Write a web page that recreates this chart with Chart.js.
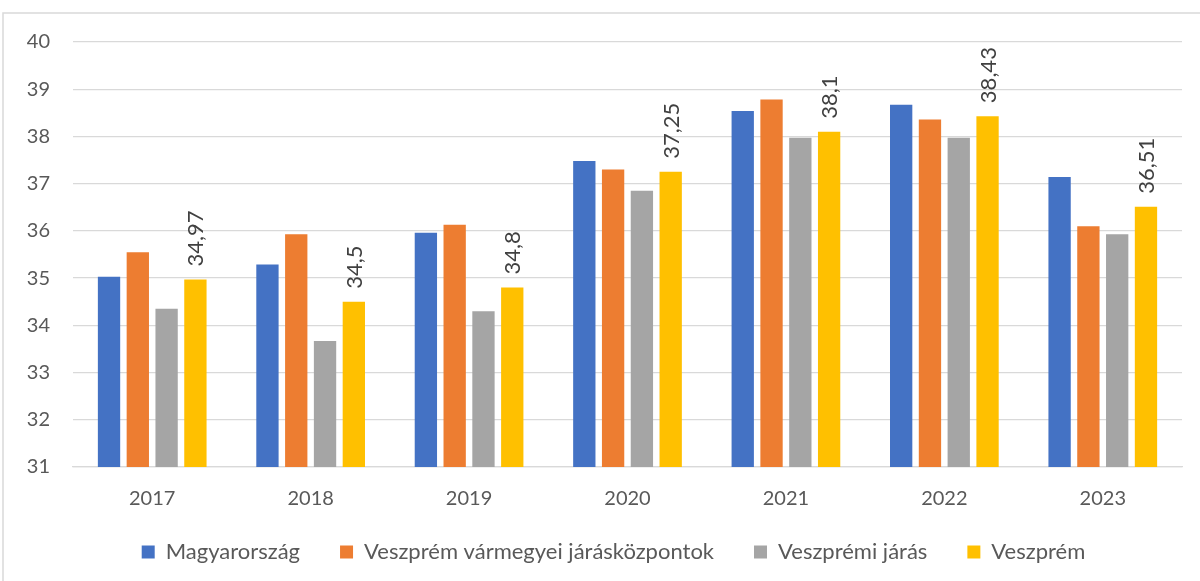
<!DOCTYPE html>
<html>
<head>
<meta charset="utf-8">
<script src="https://cdn.jsdelivr.net/npm/chart.js@4.4.1/dist/chart.umd.min.js"></script>
<style>
  html, body { margin: 0; padding: 0; background: #fff; }
  #wrap { width: 1200px; height: 581px; position: relative; }
</style>
</head>
<body>
<div id="wrap"><canvas id="chart" width="1200" height="581"></canvas></div>
<script>
const years = ["2017", "2018", "2019", "2020", "2021", "2022", "2023"];
const seriesNames = ["Magyarország", "Veszprém vármegyei járásközpontok", "Veszprémi járás", "Veszprém"];
const magyarorszag = [35.03, 35.29, 35.96, 37.48, 38.54, 38.67, 37.14];
const jarasKozpontok = [35.55, 35.93, 36.13, 37.30, 38.78, 38.36, 36.10];
const veszpremiJaras = [34.35, 33.67, 34.30, 36.85, 37.97, 37.97, 35.93];
const veszprem = [34.97, 34.5, 34.8, 37.25, 38.1, 38.43, 36.51];
const colors = ["#4472C4", "#ED7D31", "#A5A5A5", "#FFC000"];

const FONT = "Lato, 'Liberation Sans', sans-serif";
const TEXT = "#595959";
const LEGEND_SHIFT = 9;
const LEGEND_TRIM = 25;

// outer frame + legend placement tweaks
const framePlugin = {
  id: "frame",
  beforeLayout(chart) {
    // the wide item padding would make the legend box too tall
    const lg = chart.legend;
    if (lg && !lg._trimmed) {
      const fit = lg.fit;
      lg.fit = function () {
        fit.call(this);
        this.height -= LEGEND_TRIM;
      };
      lg._trimmed = true;
    }
  },
  afterLayout(chart) {
    // legend sits a bit right of the canvas centre in the original
    const lg = chart.legend;
    lg.left += LEGEND_SHIFT;
    lg.right += LEGEND_SHIFT;
    lg.top += 2 - LEGEND_TRIM;
    lg.bottom += 2;
  },
  beforeDraw(chart) {
    const ctx = chart.ctx;
    ctx.save();
    ctx.strokeStyle = "#d9d9d9";
    ctx.lineWidth = 1.5;
    ctx.strokeRect(3, 13, 1400, 800);
    ctx.restore();
  }
};

// rotated value labels above the last series
const valueLabels = {
  id: "valueLabels",
  afterDatasetsDraw(chart) {
    const ctx = chart.ctx;
    const meta = chart.getDatasetMeta(3);
    ctx.save();
    ctx.font = "22px " + FONT;
    ctx.fillStyle = "#404040";
    ctx.textAlign = "left";
    ctx.textBaseline = "middle";
    meta.data.forEach((bar, i) => {
      ctx.save();
      ctx.translate(bar.x + 1, bar.y - 13);
      ctx.rotate(-Math.PI / 2);
      ctx.fillText(String(veszprem[i]).replace(".", ","), 0, 0);
      ctx.restore();
    });
    ctx.restore();
  }
};

const data = [magyarorszag, jarasKozpontok, veszpremiJaras, veszprem];

new Chart(document.getElementById("chart"), {
  type: "bar",
  data: {
    labels: years,
    datasets: data.map((vals, i) => ({
      label: seriesNames[i],
      data: vals,
      backgroundColor: colors[i],
      borderWidth: 0,
      categoryPercentage: 0.727,
      barPercentage: 0.775
    }))
  },
  options: {
    responsive: false,
    animation: false,
    layout: { padding: { left: 27, right: 18, top: 42, bottom: 10 } },
    plugins: {
      tooltip: { enabled: false },
      legend: {
        position: "bottom",
        labels: {
          boxWidth: 13,
          boxHeight: 13,
          padding: 40,
          color: TEXT,
          font: { family: FONT, size: 22 }
        }
      }
    },
    scales: {
      y: {
        min: 31,
        max: 40,
        afterFit(scale) { scale.width = 46; },
        ticks: {
          stepSize: 1,
          padding: 23,
          color: TEXT,
          font: { family: FONT, size: 20 }
        },
        grid: { color: "#d9d9d9", lineWidth: 1.3, drawTicks: false },
        border: { display: false }
      },
      x: {
        afterFit(scale) { scale.height -= 7; },
        ticks: {
          padding: 20,
          color: TEXT,
          font: { family: FONT, size: 20 }
        },
        grid: { display: false, drawTicks: false },
        border: { color: "#d9d9d9", width: 1.3 }
      }
    }
  },
  plugins: [framePlugin, valueLabels]
});
</script>
</body>
</html>
